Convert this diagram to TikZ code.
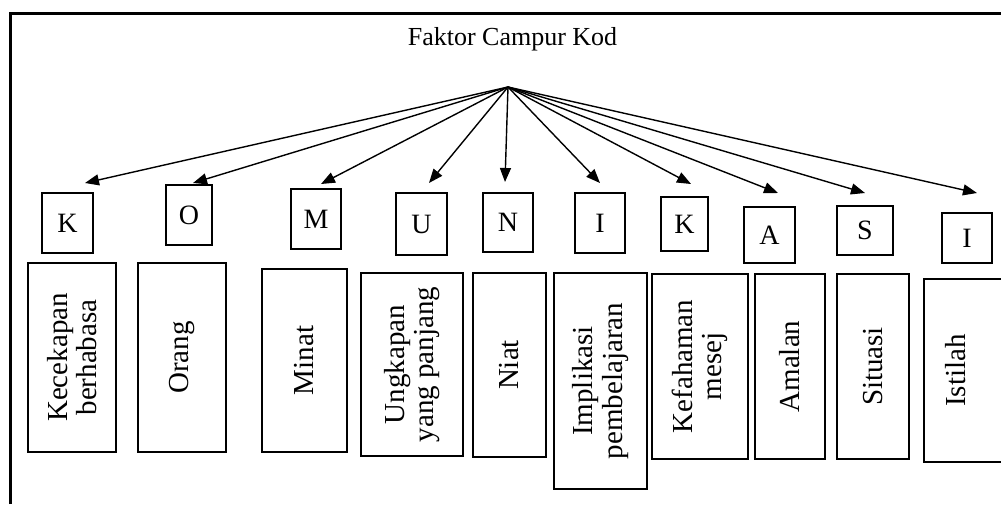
\documentclass[tikz,border=0pt]{standalone}
\usepackage{fontspec}
\setmainfont{Liberation Serif}
\usetikzlibrary{arrows.meta}
\tikzset{
  letterbox/.style={draw,line width=1.5pt,inner sep=0pt,font=\fontsize{28}{28}\selectfont},
  textbox/.style={draw,line width=1.5pt,inner sep=0pt,rotate=90,align=center,font=\fontsize{29}{29.5}\selectfont},
  arr/.style={-{Triangle[length=14pt,width=11pt]},line width=1.4pt}
}

\begin{document}
\begin{tikzpicture}[x=1pt,y=-1pt]
\useasboundingbox (0,0) rectangle (1001,504);
% frame
\draw[line width=2.6pt] (10.5,504) -- (10.5,13.2) -- (1001,13.2);

\node[anchor=base,font=\fontsize{26}{26}\selectfont] (title) at (512.5,45) {Faktor Campur Kod};
\coordinate (hub) at (508,87);

% letters
\node[letterbox,minimum width=51,minimum height=60] (l1) at (67.5,223) {K};
\node[letterbox,minimum width=46,minimum height=60] (l2) at (189,215) {O};
\node[letterbox,minimum width=50,minimum height=60] (l3) at (316,219) {M};
\node[letterbox,minimum width=51,minimum height=62] (l4) at (421.5,224) {U};
\node[letterbox,minimum width=50,minimum height=59] (l5) at (508,222.5) {N};
\node[letterbox,minimum width=50,minimum height=60] (l6) at (600,223) {I};
\node[letterbox,minimum width=47,minimum height=54] (l7) at (684.5,224) {K};
\node[letterbox,minimum width=51,minimum height=56] (l8) at (769.5,235) {A};
\node[letterbox,minimum width=56,minimum height=49] (l9) at (865,230.5) {S};
\node[letterbox,minimum width=50,minimum height=50] (l10) at (967,238) {I};

% factors
\node[textbox,minimum width=189,minimum height=88] (b1) at (72,357.5) {Kecekapan\\berhabasa};
\node[textbox,minimum width=189,minimum height=88] (b2) at (182,357.5) {Orang};
\node[textbox,minimum width=183,minimum height=85] (b3) at (304.5,360.5) {Minat};
\node[textbox,minimum width=183,minimum height=102] (b4) at (412,364.5) {Ungkapan\\yang panjang};
\node[textbox,minimum width=184,minimum height=73] (b5) at (509.5,365) {Niat};
\node[textbox,minimum width=216,minimum height=93] (b6) at (600.5,381) {Implikasi\\pembelajaran};
\node[textbox,minimum width=185,minimum height=96] (b7) at (700,366.5) {Kefahaman\\mesej};
\node[textbox,minimum width=185,minimum height=70] (b8) at (790,366.5) {Amalan};
\node[textbox,minimum width=185,minimum height=72] (b9) at (873,366.5) {Situasi};
\node[textbox,minimum width=183,text height=41pt,text depth=50pt,anchor=base] (b10) at (965,370.5) {Istilah};

% arrow tips
\coordinate (t1) at (85,183);
\coordinate (t2) at (193,183);
\coordinate (t3) at (321,184);
\coordinate (t4) at (429,183);
\coordinate (t5) at (505,182);
\coordinate (t6) at (600,183);
\coordinate (t7) at (691,184);
\coordinate (t8) at (778,193);
\coordinate (t9) at (865,193);
\coordinate (t10) at (977,193);

\path
(hub) edge[arr] (t1)
(hub) edge[arr] (t2)
(hub) edge[arr] (t3)
(hub) edge[arr] (t4)
(hub) edge[arr] (t5)
(hub) edge[arr] (t6)
(hub) edge[arr] (t7)
(hub) edge[arr] (t8)
(hub) edge[arr] (t9)
(hub) edge[arr] (t10)
;
\end{tikzpicture}
\end{document}
